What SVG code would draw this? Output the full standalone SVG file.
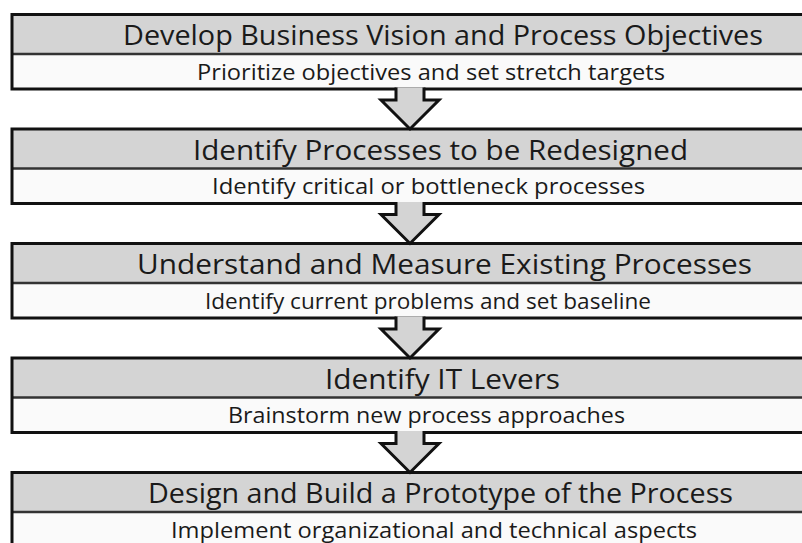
<svg xmlns="http://www.w3.org/2000/svg" width="802" height="543" viewBox="0 0 802 543">
<style>
.hd{fill:#d4d4d4;stroke:none}
.sb{fill:#fafafa;stroke:none}
.out{fill:none;stroke:#111;stroke-width:3}
.div{stroke:#333;stroke-width:2.5}
.t1{font-family:"Open Sans","DejaVu Sans",sans-serif;font-size:27px;fill:#1a1a1a}
.t2{font-family:"Open Sans","DejaVu Sans",sans-serif;font-size:21px;fill:#1a1a1a}
.arr{fill:#d4d4d4;stroke:#111;stroke-width:3;stroke-linejoin:miter}
</style>
<rect width="802" height="543" fill="#ffffff"/>
<g id="step1" transform="translate(0,14.5)">
<rect class="hd" x="12" y="0" width="800" height="39.5"/>
<rect class="sb" x="12" y="39.5" width="800" height="35"/>
<line class="div" x1="12" y1="39.5" x2="812" y2="39.5"/>
<rect class="out" x="12" y="0" width="800" height="74.5"/>
<text class="t1" x="123" y="30.5" textLength="640" lengthAdjust="spacingAndGlyphs">Develop Business Vision and Process Objectives</text>
<text class="t2" x="197" y="65" textLength="468" lengthAdjust="spacingAndGlyphs">Prioritize objectives and set stretch targets</text>
</g>
<g id="step2" transform="translate(0,129)">
<rect class="hd" x="12" y="0" width="800" height="39.5"/>
<rect class="sb" x="12" y="39.5" width="800" height="35"/>
<line class="div" x1="12" y1="39.5" x2="812" y2="39.5"/>
<rect class="out" x="12" y="0" width="800" height="74.5"/>
<text class="t1" x="193" y="30.5" textLength="495" lengthAdjust="spacingAndGlyphs">Identify Processes to be Redesigned</text>
<text class="t2" x="212" y="65" textLength="433" lengthAdjust="spacingAndGlyphs">Identify critical or bottleneck processes</text>
</g>
<g id="step3" transform="translate(0,243.5)">
<rect class="hd" x="12" y="0" width="800" height="39.5"/>
<rect class="sb" x="12" y="39.5" width="800" height="35"/>
<line class="div" x1="12" y1="39.5" x2="812" y2="39.5"/>
<rect class="out" x="12" y="0" width="800" height="74.5"/>
<text class="t1" x="137" y="30.5" textLength="615" lengthAdjust="spacingAndGlyphs">Understand and Measure Existing Processes</text>
<text class="t2" x="205" y="65" textLength="446" lengthAdjust="spacingAndGlyphs">Identify current problems and set baseline</text>
</g>
<g id="step4" transform="translate(0,358)">
<rect class="hd" x="12" y="0" width="800" height="39.5"/>
<rect class="sb" x="12" y="39.5" width="800" height="35"/>
<line class="div" x1="12" y1="39.5" x2="812" y2="39.5"/>
<rect class="out" x="12" y="0" width="800" height="74.5"/>
<text class="t1" x="325" y="30.5" textLength="235" lengthAdjust="spacingAndGlyphs">Identify IT Levers</text>
<text class="t2" x="228" y="65" textLength="397" lengthAdjust="spacingAndGlyphs">Brainstorm new process approaches</text>
</g>
<g id="step5" transform="translate(0,472.5)">
<rect class="hd" x="12" y="0" width="800" height="39.5"/>
<rect class="sb" x="12" y="39.5" width="800" height="35"/>
<line class="div" x1="12" y1="39.5" x2="812" y2="39.5"/>
<rect class="out" x="12" y="0" width="800" height="74.5"/>
<text class="t1" x="148" y="30.5" textLength="585" lengthAdjust="spacingAndGlyphs">Design and Build a Prototype of the Process</text>
<text class="t2" x="171" y="65" textLength="526" lengthAdjust="spacingAndGlyphs">Implement organizational and technical aspects</text>
</g>
<g id="connectors">
<path class="arr" transform="translate(0,0)" d="M396,87.5 V100 H381 L410,129 L439,100 H424 V87.5"/>
<path class="arr" transform="translate(0,114.5)" d="M396,87.5 V100 H381 L410,129 L439,100 H424 V87.5"/>
<path class="arr" transform="translate(0,229)" d="M396,87.5 V100 H381 L410,129 L439,100 H424 V87.5"/>
<path class="arr" transform="translate(0,343.5)" d="M396,87.5 V100 H381 L410,129 L439,100 H424 V87.5"/>
</g>
</svg>
